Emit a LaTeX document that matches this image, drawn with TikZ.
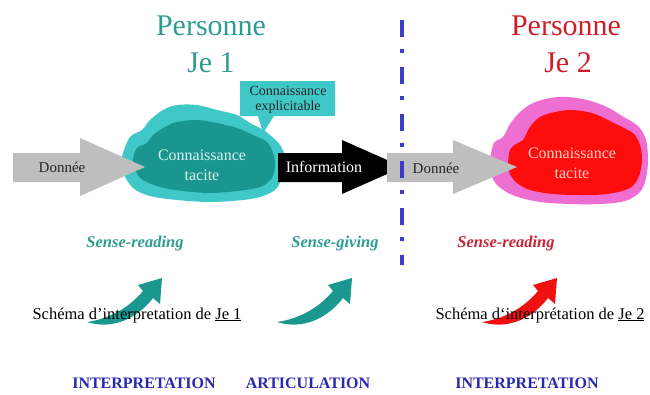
\documentclass[tikz,border=0pt]{standalone}
\usepackage{fontspec}
\setmainfont{Liberation Serif}
\definecolor{tealtitle}{RGB}{46,156,144}
\definecolor{turq}{RGB}{64,200,200}
\definecolor{tealdark}{RGB}{26,150,144}
\definecolor{cloudtxt}{RGB}{215,240,235}
\definecolor{pinkout}{RGB}{238,110,210}
\definecolor{redin}{RGB}{255,12,12}
\definecolor{redtitle}{RGB}{208,30,40}
\definecolor{redlabel}{RGB}{200,36,56}
\definecolor{redtxt}{RGB}{255,210,195}
\definecolor{arrowgrey}{RGB}{190,190,190}
\definecolor{bluetxt}{RGB}{40,40,176}
\definecolor{blueline}{RGB}{60,60,200}
\definecolor{swteal}{RGB}{26,152,144}
\definecolor{swred}{RGB}{240,16,16}
\begin{document}
\begin{tikzpicture}[x=1pt,y=-1pt,
  every node/.style={inner sep=0pt, anchor=base},
  title/.style={font=\fontsize{30}{34}\selectfont},
  body/.style={font=\fontsize{16}{19}\selectfont},
  small/.style={font=\fontsize{14}{16}\selectfont, text=black!85},
  sense/.style={font=\fontsize{16.5}{19}\selectfont\bfseries\itshape},
  phase/.style={font=\fontsize{16}{19}\selectfont\bfseries, text=bluetxt},
  cloudline/.style={smooth cycle, tension=0.55},
]
\useasboundingbox (0,0) rectangle (650,394);

% ---- titles
\node[title, text=tealtitle] (p1) at (211,35) {Personne};
\node[title, text=tealtitle] (j1) at (211,72) {Je 1};
\node[title, text=redtitle] (p2) at (566,35) {Personne};
\node[title, text=redtitle] (j2) at (568,72) {Je 2};

% ---- tacit knowledge of Je 1
\fill[turq] plot[cloudline] coordinates {(122,157) (130,137) (142,130) (150,120) (163,110)
  (177,105) (197,105) (217,110) (237,115) (250,123) (262,129) (270,135) (280,145)
  (285,157) (283,172) (277,188) (263,196) (243,200) (210,202) (177,200) (150,196)
  (133,188) (123,172)};
\fill[tealdark] plot[cloudline] coordinates {(133,160) (137,148) (147,143) (153,135) (165,127)
  (177,122) (197,120) (217,123) (237,128) (253,135) (267,142) (273,153) (275,165)
  (272,178) (260,187) (237,191) (210,193) (183,191) (160,187) (143,180) (136,172)};
\node[body, text=cloudtxt] (ct1a) at (202,160) {Connaissance};
\node[body, text=cloudtxt] (ct1b) at (202,180) {tacite};

% ---- callout
\fill[turq] (240,81) -- (335,81) -- (335,116) -- (274,116) -- (263,133) -- (258,116)
  -- (240,116) -- cycle;
\node[small] (ce1) at (288,95) {Connaissance};
\node[small] (ce2) at (288,110) {explicitable};

% ---- tacit knowledge of Je 2
\fill[pinkout] plot[cloudline] coordinates {(490,160) (494,143) (503,137) (510,124) (520,112)
  (533,103) (550,98) (567,97) (587,100) (607,107) (622,116) (638,126) (646,140)
  (648,160) (646,178) (640,192) (625,201) (600,204) (570,204) (540,202) (515,196)
  (498,186) (490,172)};
\fill[redin] plot[cloudline] coordinates {(508,165) (510,150) (516,144) (523,140) (530,127)
  (540,117) (555,112) (572,110) (592,113) (608,120) (622,127) (634,134) (640,145)
  (642,160) (639,176) (630,188) (607,194) (580,195) (553,194) (530,190) (517,183)
  (510,174)};
\node[body, text=redtxt] (ct2a) at (572,158) {Connaissance};
\node[body, text=redtxt] (ct2b) at (572,178) {tacite};

% ---- flow arrows
\fill[arrowgrey] (13,153) -- (80,153) -- (80,138) -- (145,167) -- (80,196) -- (80,182)
  -- (13,182) -- cycle;
\node[body, font=\fontsize{15}{18}\selectfont, text=black!85] (d1) at (62,172) {Donnée};

\fill[black] (278,153) -- (342,153) -- (342,140) -- (403,167) -- (342,194) -- (342,182)
  -- (278,182) -- cycle;
\node[body, text=white] (info) at (324,172) {Information};

\fill[arrowgrey] (387,153) -- (453,153) -- (453,140) -- (517,167) -- (453,194) -- (453,182)
  -- (387,182) -- cycle;
\node[body, font=\fontsize{15}{18}\selectfont, text=black!85] (d2) at (436,173) {Donnée};

% ---- separation line
\coordinate (sepTop) at (402,20);
\coordinate (sepBot) at (402,265);
\draw[blueline, line width=4pt, dash pattern=on 17pt off 12pt on 4pt off 14pt]
  (sepTop) -- (sepBot);

% ---- sense labels
\node[sense, text=tealtitle] (sr1) at (135,247) {Sense-reading};
\node[sense, text=tealtitle] (sg) at (335,247) {Sense-giving};
\node[sense, text=redlabel] (sr2) at (506,247) {Sense-reading};

% ---- curved arrows (tail at origin)
\newcommand\swooshpath{%
  (0,0) .. controls (20,-3) and (40,-12) .. (56,-31) -- (51,-37) -- (75,-44)
  -- (73,-18) -- (66,-24) .. controls (50,-3) and (25,8) .. (0,0) -- cycle}
\fill[swteal, shift={(87,322)}] \swooshpath;
\fill[swteal, shift={(277,322)}] \swooshpath;
\fill[swred, shift={(482,322)}] \swooshpath;

% ---- interpretation schemes
\node[body, font=\fontsize{16.5}{19}\selectfont] (sc1) at (137,319)
  {Schéma d’interpretation de \underline{Je 1}};
\node[body, font=\fontsize{16.5}{19}\selectfont] (sc2) at (540,319)
  {Schéma d‘interprétation de \underline{Je 2}};

% ---- phases
\node[phase] (ph1) at (144,388) {INTERPRETATION};
\node[phase] (ph2) at (308,388) {ARTICULATION};
\node[phase] (ph3) at (527,388) {INTERPRETATION};
\end{tikzpicture}
\end{document}
